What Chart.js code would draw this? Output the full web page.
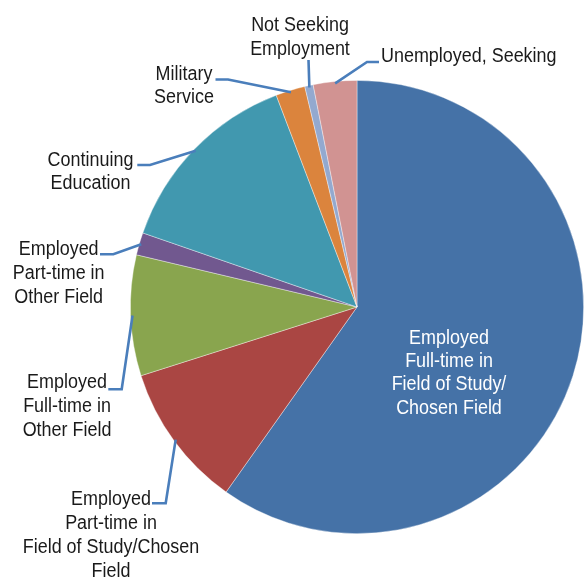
<!DOCTYPE html>
<html><head><meta charset="utf-8">
<style>html,body{margin:0;padding:0;background:#fff;overflow:hidden}#wrap{width:587px;height:578px;position:relative}</style>
<script src="https://cdn.jsdelivr.net/npm/chart.js@4.4.0/dist/chart.umd.min.js"></script>
</head><body><div id="wrap"><canvas id="c" width="587" height="578"></canvas></div>
<script>
const categories = [
  "Employed Full-time in Field of Study/Chosen Field",
  "Employed Part-time in Field of Study/Chosen Field",
  "Employed Full-time in Other Field",
  "Employed Part-time in Other Field",
  "Continuing Education",
  "Military Service",
  "Not Seeking Employment",
  "Unemployed, Seeking"
];
const labelLines = [
  ["Employed", "Full-time in", "Field of Study/", "Chosen Field"],
  ["Employed", "Part-time in", "Field of Study/Chosen", "Field"],
  ["Employed", "Full-time in", "Other Field"],
  ["Employed", "Part-time in", "Other Field"],
  ["Continuing", "Education"],
  ["Military", "Service"],
  ["Not Seeking", "Employment"],
  ["Unemployed, Seeking"]
];
const shares = [59.8, 10.3, 8.6, 1.6, 13.9, 2.1, 0.6, 3.1];
const colors = ["#4572A7", "#AA4643", "#89A54E", "#71588F", "#4198AF", "#DB843D", "#93A9CF", "#D19392"];

// label layout (positions only)
const layout = [
  {x: 449, y: 343.5, align: "center", lh: 23.4, color: "#ffffff", leader: null},
  {x: 111, y: 505, align: "center", lh: 24, color: "#1a1a1a", leader: [[165.7, 503.3], [152, 503.3]]},
  {x: 67, y: 388.3, align: "center", lh: 24, color: "#1a1a1a", leader: [[121.7, 389.3], [108.3, 389.3]]},
  {x: 58.7, y: 255, align: "center", lh: 24, color: "#1a1a1a", leader: [[113.3, 254.3], [100, 254.3]]},
  {x: 90.5, y: 165.7, align: "center", lh: 23, color: "#1a1a1a", leader: [[150, 165], [137.3, 165]]},
  {x: 184, y: 80, align: "center", lh: 23, color: "#1a1a1a", leader: [[228, 79.5], [215.5, 79.5]]},
  {x: 300, y: 31, align: "center", lh: 24, color: "#1a1a1a", leader: [[308.5, 60]]},
  {x: 381, y: 61.7, align: "left", lh: 24, color: "#1a1a1a", leader: [[367, 62], [379, 62]]}
];
const FONT = '19.5px "Liberation Sans", Arial, sans-serif';
const XSCALE = 0.92;

const labelPlugin = {
  id: "outLabels",
  afterDatasetsDraw(chart) {
    const ctx = chart.ctx;
    const meta = chart.getDatasetMeta(0);
    meta.data.forEach((arc, i) => {
      const L = layout[i];
      ctx.save();
      if (L.leader) {
        const p = arc.getProps(["x", "y", "startAngle", "endAngle", "outerRadius"], true);
        const mid = (p.startAngle + p.endAngle) / 2;
        const r = p.outerRadius - 2;
        ctx.beginPath();
        ctx.moveTo(p.x + Math.cos(mid) * r, p.y + Math.sin(mid) * r);
        L.leader.forEach(pt => ctx.lineTo(pt[0], pt[1]));
        ctx.strokeStyle = "#4A7EBB";
        ctx.lineWidth = 2.6;
        ctx.lineJoin = "miter";
        ctx.stroke();
      }
      ctx.font = FONT;
      ctx.fillStyle = L.color;
      ctx.textAlign = L.align;
      ctx.textBaseline = "alphabetic";
      labelLines[i].forEach((t, k) => {
        ctx.save();
        ctx.translate(L.x, L.y + k * L.lh);
        ctx.scale(XSCALE, 1);
        ctx.fillText(t, 0, 0);
        ctx.restore();
      });
      ctx.restore();
    });
  }
};

new Chart(document.getElementById("c"), {
  type: "pie",
  data: {
    labels: categories,
    datasets: [{
      data: shares,
      backgroundColor: colors,
      borderColor: "rgba(255,255,255,0.5)",
      borderWidth: 0.75,
      hoverOffset: 0
    }]
  },
  options: {
    responsive: false,
    animation: false,
    layout: {padding: {left: 130, top: 80, right: 3, bottom: 44}},
    plugins: {legend: {display: false}, tooltip: {enabled: false}}
  },
  plugins: [labelPlugin]
});
</script>
</body></html>
